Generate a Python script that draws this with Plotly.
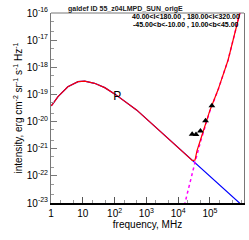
import plotly.graph_objects as go

# log10(frequency / MHz) and log10(intensity)
sync_lognu = [0.00, 0.03, 0.22, 0.53, 0.85, 1.06, 1.37, 1.69, 2.00, 2.23, 2.69, 3.22, 3.74, 4.27, 4.47, 4.80, 5.20, 5.60, 5.93, 6.07]
sync_logI = [-19.42, -19.39, -19.08, -18.72, -18.53, -18.51, -18.59, -18.75, -18.98, -19.17, -19.57, -20.13, -20.68, -21.23, -21.45, -21.80, -22.23, -22.66, -23.00, -23.15]

dust_lognu = [4.15, 4.21, 4.30, 4.40, 4.53, 4.70, 5.00, 5.25, 5.57, 5.94, 6.07]
dust_logI = [-23.30, -23.00, -22.55, -22.10, -21.50, -20.75, -19.60, -18.85, -17.73, -16.00, -15.40]

total_lognu = [0.00, 0.03, 0.22, 0.53, 0.85, 1.06, 1.37, 1.69, 2.00, 2.23, 2.69, 3.22, 3.74, 4.27, 4.45, 4.53, 4.59, 4.70, 5.00, 5.25, 5.57, 5.94, 6.07]
total_logI = [-19.42, -19.39, -19.08, -18.72, -18.53, -18.51, -18.59, -18.75, -18.98, -19.17, -19.57, -20.13, -20.68, -21.23, -21.44, -21.42, -21.08, -20.68, -19.58, -18.84, -17.73, -16.00, -15.40]

data_lognu = [4.44, 4.56, 4.70, 4.86, 5.06]
data_logI = [-20.47, -20.48, -20.35, -19.97, -19.42]

label_lognu = [2.08]
label_logI = [-19.10]
label_text = ["P"]

region_lines = ["40.00<l<180.00 , 180.00<l<320.00",
                "-45.00<b<-10.00 , 10.00<b<45.00"]

x_tickvals = [1, 10, 100, 1000, 10000, 100000]
x_ticktext = ["1", "10", "10<sup>2</sup>", "10<sup>3</sup>", "10<sup>4</sup>", "10<sup>5</sup>"]
y_tickvals = [1e-23, 1e-22, 1e-21, 1e-20, 1e-19, 1e-18, 1e-17, 1e-16]
y_ticktext = ["10<sup>-23</sup>", "10<sup>-22</sup>", "10<sup>-21</sup>", "10<sup>-20</sup>",
              "10<sup>-19</sup>", "10<sup>-18</sup>", "10<sup>-17</sup>", "10<sup>-16</sup>"]


def p10(v):
    return [10 ** a for a in v]


fig = go.Figure()
fig.add_trace(go.Scatter(x=p10(sync_lognu), y=p10(sync_logI), mode="lines",
                         line=dict(color="#0000ff", width=1.2), hoverinfo="skip"))
fig.add_trace(go.Scatter(x=p10(dust_lognu), y=p10(dust_logI), mode="lines",
                         line=dict(color="#ff00ff", width=1.5, dash="dot"), hoverinfo="skip"))
fig.add_trace(go.Scatter(x=p10(total_lognu), y=p10(total_logI), mode="lines",
                         line=dict(color="#ff0000", width=1.2), hoverinfo="skip"))
fig.add_trace(go.Scatter(x=p10(data_lognu), y=p10(data_logI), mode="markers",
                         marker=dict(symbol="triangle-up", size=6, color="black")))
fig.add_trace(go.Scatter(x=p10(label_lognu), y=p10(label_logI), mode="text", text=label_text,
                         textfont=dict(family="Liberation Sans", size=12, color="black")))

fig.update_layout(
    width=249, height=240,
    margin=dict(l=51, r=5, t=13, b=37),
    paper_bgcolor="white", plot_bgcolor="white",
    showlegend=False,
    font=dict(family="Liberation Sans", size=10, color="black"),
)
fig.update_xaxes(
    type="log", range=[0, 6.07],
    tickvals=x_tickvals, ticktext=x_ticktext,
    ticks="inside", ticklen=6, tickcolor="#555555",
    minor=dict(ticks="inside", ticklen=3, tickcolor="#999999", showgrid=False),
    showgrid=False, zeroline=False,
    showline=True, linecolor="black", linewidth=1.5,
    tickfont=dict(size=10),
    title=dict(text="frequency, MHz", font=dict(size=10), standoff=2),
)
fig.update_yaxes(
    type="log", range=[-23, -16],
    tickvals=y_tickvals, ticktext=y_ticktext,
    ticks="inside", ticklen=6, tickcolor="#777777",
    minor=dict(ticks="inside", ticklen=3, tickcolor="#999999", showgrid=False),
    showgrid=False, zeroline=False,
    showline=True, linecolor="#777777", linewidth=1, mirror=True,
    tickfont=dict(size=10),
    title=dict(text="intensity, erg cm<sup>-2</sup> sr<sup>-1</sup> s<sup>-1</sup> Hz<sup>-1</sup>",
               font=dict(size=10), standoff=2),
)
fig.add_shape(type="line", xref="paper", yref="paper", x0=0, x1=1, y0=1, y1=1,
              line=dict(color="#777777", width=1))
fig.add_annotation(text="galdef ID 55_z04LMPD_SUN_origE", xref="paper", yref="paper",
                   x=0.386, y=1.0, xanchor="center", yanchor="bottom", showarrow=False,
                   font=dict(size=7, color="#222222", weight="bold"), yshift=-2)
for i, line_txt in enumerate(region_lines):
    fig.add_annotation(text=line_txt, xref="paper", yref="paper", x=1.0, y=1.0,
                       xanchor="right", yanchor="top", align="right", showarrow=False,
                       font=dict(size=7, color="black", weight="bold"),
                       yshift=2 - 8 * i, xshift=-2 + i * (-1))

fig.write_html("out.html",
               config={"displayModeBar": False},
               post_script="document.body.style.margin='0';document.body.style.padding='0';")
